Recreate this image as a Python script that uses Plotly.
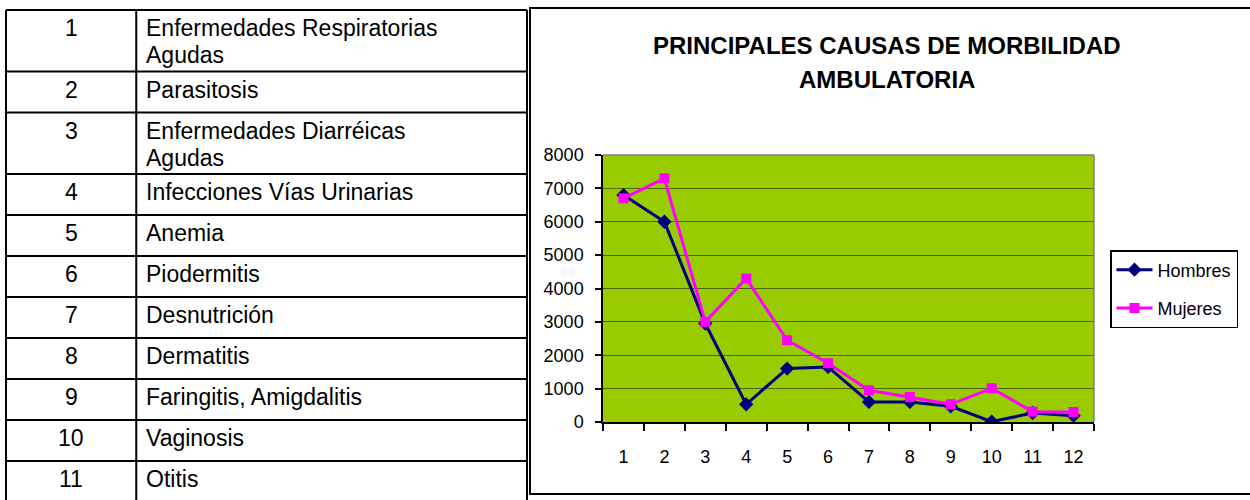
import plotly.graph_objects as go

# ---------------- data ----------------
table_numbers = ["1", "2", "3", "4", "5", "6", "7", "8", "9", "10", "11"]
table_causes = [
    "Enfermedades Respiratorias<br>Agudas",
    "Parasitosis",
    "Enfermedades Diarréicas<br>Agudas",
    "Infecciones Vías Urinarias",
    "Anemia",
    "Piodermitis",
    "Desnutrición",
    "Dermatitis",
    "Faringitis, Amigdalitis",
    "Vaginosis",
    "Otitis",
]
categories = ["1", "2", "3", "4", "5", "6", "7", "8", "9", "10", "11", "12"]
hombres = [6800, 6000, 2950, 530, 1600, 1650, 600, 600, 470, 10, 270, 190]
mujeres = [6700, 7300, 3000, 4300, 2450, 1760, 950, 750, 530, 1010, 310, 300]
y_ticks = [0, 1000, 2000, 3000, 4000, 5000, 6000, 7000, 8000]
title_lines = ["PRINCIPALES CAUSAS DE MORBILIDAD", "AMBULATORIA"]

FONT = "Liberation Sans, Arial, sans-serif"
W, H = 1250, 500
TABLE_FONT = 23
TABLE_LINE_STEP = 27  # px between wrapped lines inside a cell

fig = go.Figure()

fig.add_trace(go.Scatter(
    x=categories, y=hombres, name="Hombres", mode="lines+markers",
    line=dict(color="#000080", width=3),
    marker=dict(symbol="diamond", size=11, color="#000080"),
    legendgroup="h",
))
fig.add_trace(go.Scatter(
    x=categories, y=mujeres, name="Mujeres", mode="lines+markers",
    line=dict(color="#FF00FF", width=3),
    marker=dict(symbol="square", size=10, color="#FF00FF"),
    legendgroup="m",
))
# empty trace so the table axes exist
fig.add_trace(go.Scatter(x=[], y=[], xaxis="x2", yaxis="y2", showlegend=False, hoverinfo="skip"))

# ---------------- table (on hidden axes x2/y2, in row/column units) ----------------
row_units = [1.5 if "<br>" in t else 1.0 for t in table_causes]
bounds = [0.0]
for u in row_units:
    bounds.append(bounds[-1] + u)
col_bounds = [0, 1, 4]

shapes = []
for b in bounds:
    shapes.append(dict(type="line", xref="x2", yref="y2", x0=col_bounds[0], x1=col_bounds[-1],
                       y0=b, y1=b, line=dict(color="black", width=2)))
for c in col_bounds:
    shapes.append(dict(type="line", xref="x2", yref="y2", x0=c, x1=c,
                       y0=bounds[0], y1=bounds[-1], line=dict(color="black", width=2)))

annotations = []
for num, cause, top in zip(table_numbers, table_causes, bounds[:-1]):
    annotations.append(dict(xref="x2", yref="y2", x=(col_bounds[0] + col_bounds[1]) / 2, y=top,
                            text=num, showarrow=False, xanchor="center", yanchor="top",
                            yshift=-3, font=dict(family=FONT, size=TABLE_FONT, color="black")))
    for k, part in enumerate(cause.split("<br>")):
        annotations.append(dict(xref="x2", yref="y2", x=col_bounds[1], y=top,
                                text=part, showarrow=False, xanchor="left", yanchor="top",
                                align="left", xshift=8, yshift=-3 - k * TABLE_LINE_STEP,
                                font=dict(family=FONT, size=TABLE_FONT, color="black")))

# chart title, one annotation per line
title_tops = [30, 64]
for line, top in zip(title_lines, title_tops):
    annotations.append(dict(xref="paper", yref="paper", x=887 / W, y=1 - top / H,
                            text="<b>" + line + "</b>", showarrow=False,
                            xanchor="center", yanchor="top",
                            font=dict(family=FONT, size=24, color="black")))

# ---------------- chart decorations ----------------
shapes.append(dict(type="rect", xref="x domain", yref="y domain", x0=0, x1=1, y0=0, y1=1,
                   fillcolor="#99CC00", line=dict(width=0), layer="below"))
shapes.append(dict(type="line", xref="x domain", yref="y domain", x0=0, x1=1, y0=1, y1=1,
                   line=dict(color="#808080", width=1.5)))
shapes.append(dict(type="line", xref="x domain", yref="y domain", x0=1, x1=1, y0=0, y1=1,
                   line=dict(color="#808080", width=1.5)))
shapes.append(dict(type="rect", xref="paper", yref="paper", x0=530 / W, x1=1.01,
                   y0=1 - 494 / H, y1=1 - 8 / H, line=dict(color="black", width=2)))

fig.update_layout(
    width=W, height=H, autosize=False,
    margin=dict(l=0, r=0, t=0, b=0, pad=0, autoexpand=False),
    paper_bgcolor="white", plot_bgcolor="rgba(0,0,0,0)",
    font=dict(family=FONT, size=18, color="black"),
    xaxis=dict(domain=[603 / W, 1094 / W], type="category", range=[-0.5, 11.5],
               tickson="boundaries", ticks="outside", ticklen=7, tickcolor="black", tickwidth=1.5,
               showline=True, linecolor="black", linewidth=1.5, showgrid=False,
               tickfont=dict(size=18), ticklabelstandoff=18, anchor="y", fixedrange=True,
               automargin=False),
    yaxis=dict(domain=[1 - 422 / H, 1 - 155 / H], range=[0, 8000], tickvals=y_ticks,
               ticks="outside", ticklen=6, tickcolor="black", tickwidth=1.5,
               showline=True, linecolor="black", linewidth=1.5,
               showgrid=True, gridcolor="#4a6600", gridwidth=1, zeroline=False,
               tickfont=dict(size=18), ticklabelstandoff=8, anchor="x", fixedrange=True,
               automargin=False),
    xaxis2=dict(domain=[4 / W, 529 / W], range=[-2 / 130.25, 4 + 2 / 130.25], visible=False,
                anchor="y2", fixedrange=True, automargin=False),
    yaxis2=dict(domain=[0, 1 - 8 / H], range=[11.95, -0.05], visible=False,
                anchor="x2", fixedrange=True, automargin=False),
    legend=dict(x=1110 / W, y=1 - 250 / H, xanchor="left", yanchor="top",
                bgcolor="white", bordercolor="black", borderwidth=1.5,
                font=dict(family=FONT, size=18, color="black"), tracegroupgap=12,
                itemwidth=36),
    shapes=shapes,
    annotations=annotations,
    showlegend=True,
)

fig.write_html(
    "out.html",
    config={"displayModeBar": False},
    post_script="document.body.style.margin='0';document.body.style.overflow='hidden';",
)
